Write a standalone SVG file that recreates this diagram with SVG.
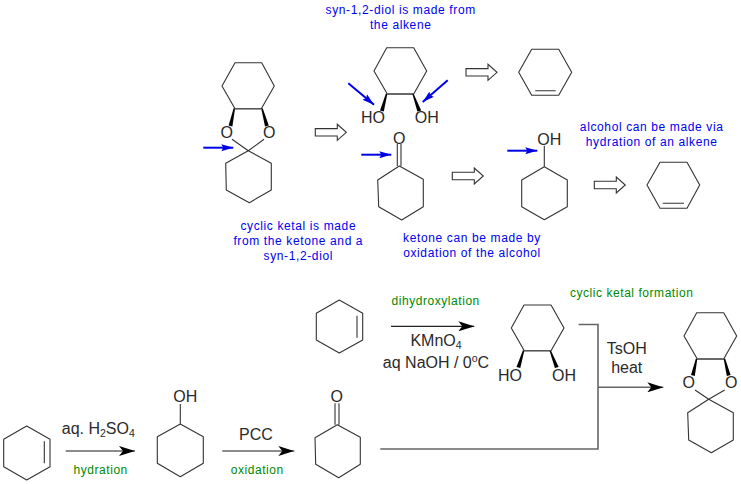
<svg xmlns="http://www.w3.org/2000/svg" width="741" height="484" viewBox="0 0 741 484">
<style>
text{font-family:"Liberation Sans",Arial,sans-serif;text-anchor:middle}
.b{fill:none;stroke:#333;stroke-width:1.1;stroke-linejoin:round}
.m{fill:none;stroke:#555;stroke-width:1.4}
.w{fill:#000;stroke:none}
.a{font-size:16px;fill:#2a2a2a}
.n{font-size:12px;fill:#0000f0;letter-spacing:.62px}
.g{font-size:12px;fill:#008a00;letter-spacing:.55px}
.r{font-size:16px;fill:#2a2a2a}
.s{font-size:10.5px}
.h{fill:#fff;stroke:#333;stroke-width:1.1}
.bl{fill:none;stroke:#0000e6;stroke-width:2}
.l{fill:none;stroke:#666;stroke-width:1.6}
.k{fill:none;stroke:#222;stroke-width:1.2}
</style>
<defs>
<marker id="bh" markerUnits="userSpaceOnUse" markerWidth="12" markerHeight="8" refX="12" refY="4" orient="auto"><path d="M0 .5 L12 4 L0 7.5 L2 4Z" fill="#0000e6"/></marker>
<marker id="kh" markerUnits="userSpaceOnUse" markerWidth="16" markerHeight="10" refX="16" refY="5" orient="auto"><path d="M0 0 L16 5 L0 10 L4 5Z" fill="#000"/></marker>
<path id="retro" d="M0 -3.7 H22 V-8 L31 0 L22 8 V3.7 H0Z"/>
</defs>

<g id="ketal-top">
<path class="b" d="M235 62.7H261.7L274.3 86L261.3 108.7H235L222 86Z"/>
<path class="m" d="M235 108.7H261.3"/>
<path class="w" d="M235 108.7L233.6 108.2L228.6 125.5L232.4 126.5Z"/>
<path class="w" d="M261.3 108.7L262.7 108.2L268.8 125.5L265 126.5Z"/>
<path class="b" d="M232 139.3L248.3 150.7L264 139.3M248.3 150.7L271.3 163.3V190L249.3 202.7L226.3 190L225.7 163.3Z"/>
<text class="a" x="226.7" y="138">O</text>
<text class="a" x="269.3" y="138">O</text>
</g>
<g id="diol-top">
<path class="b" d="M386.7 47.7H413.7L426.7 71L413.7 94H387.3L374 71Z"/>
<path class="m" d="M387.3 94H413.7"/>
<path class="w" d="M387.3 94L385.9 93.5L380 110.5L383.8 111.5Z"/>
<path class="w" d="M413.7 94L412.3 93.8L417.4 111.5L421.2 110.5Z"/>
<text class="a" x="373" y="123">HO</text>
<text class="a" x="426.7" y="123">OH</text>
</g>
<g id="alkene-top">
<path class="b" d="M531.7 49.3H558.7L571.7 72.3L558.7 95.3H531.7L518.7 72.3ZM535.3 90.7H555.7"/>
</g>
<g id="ketone-top">
<path class="b" d="M397.3 144V166M401 144V166M399.3 166L423.3 179.3V206.7L401.7 220L378.7 206.7L377.7 180Z"/>
<text class="a" x="399.3" y="144">O</text>
</g>
<g id="alcohol-top">
<path class="b" d="M544.3 145.7V166.7L567.3 180V206.7L544.3 219.7L521.7 206.7V180L544.3 166.7"/>
<text class="a" x="549.3" y="145">OH</text>
</g>
<g id="alkene-right">
<path class="b" d="M660 162.3H687L699.7 185L687 208.3H660L647 185ZM662.7 203.3H684"/>
</g>
<g id="retro-arrows">
<use href="#retro" class="h" x="315.3" y="132.3"/>
<use href="#retro" class="h" x="452.3" y="176"/>
<use href="#retro" class="h" x="466" y="72.3"/>
<use href="#retro" class="h" x="594.3" y="185"/>
</g>
<g id="blue-arrows">
<path class="bl" marker-end="url(#bh)" d="M203.3 147.7H233.3"/>
<path class="bl" marker-end="url(#bh)" d="M348.3 83.3L374 104.7"/>
<path class="bl" marker-end="url(#bh)" d="M447.7 80.3L422.7 102"/>
<path class="bl" marker-end="url(#bh)" d="M361.3 154.7H391.3"/>
<path class="bl" marker-end="url(#bh)" d="M507.3 150.7H537.3"/>
</g>
<g id="notes">
<text class="n" x="400.7" y="13.5">syn-1,2-diol is made from</text>
<text class="n" x="400.7" y="29">the alkene</text>
<text class="n" x="298.3" y="230">cyclic ketal is made</text>
<text class="n" x="298.3" y="244.7">from the ketone and a</text>
<text class="n" x="298.3" y="259.7">syn-1,2-diol</text>
<text class="n" x="472" y="241.5">ketone can be made by</text>
<text class="n" x="472" y="256.5">oxidation of the alcohol</text>
<text class="n" x="651.7" y="130.5">alcohol can be made via</text>
<text class="n" x="651.7" y="145.5">hydration of an alkene</text>
</g>

<g id="alkene-a">
<path class="b" d="M339.3 300L362.7 313.3V340L339.3 353L316.3 340V313.3ZM357 315.7V337.7"/>
</g>
<g id="alkene-b">
<path class="b" d="M26.7 426L50 439.3V466.7L26.7 480L3.7 466.7V439.3ZM44.3 441.3V463.3"/>
</g>
<g id="alcohol-b">
<path class="b" d="M180.3 404V424L203.3 436.7V463.3L180.3 476.7L157.3 463.3V436.7L180.3 424"/>
<text class="a" x="185.3" y="402">OH</text>
</g>
<g id="ketone-b">
<path class="b" d="M335 403.3V424.7M339 403.3V424.7M337.3 424.7L360.3 437.3V464.3L338.7 477.7L315.7 464.3L315 437.7Z"/>
<text class="a" x="336.7" y="402">O</text>
</g>
<g id="diol-b">
<path class="b" d="M524 305H551L564 328L551 350.7H524.3L511.3 328Z"/>
<path class="m" d="M524.3 350.7H551"/>
<path class="w" d="M524.3 350.7L522.9 350.2L516.5 367L520.3 368Z"/>
<path class="w" d="M551 350.7L549.6 350.9L554.9 368L558.7 367Z"/>
<text class="a" x="510" y="381">HO</text>
<text class="a" x="564" y="381">OH</text>
</g>
<g id="ketal-b">
<path class="b" d="M696.7 312.7H723.7L736.7 336L723.7 359H697.3L684 336Z"/>
<path class="m" d="M697.3 359H723.7"/>
<path class="w" d="M697.3 359L695.9 358.5L691 375L694.8 376Z"/>
<path class="w" d="M723.7 359L725.1 358.5L730.6 375L726.8 376Z"/>
<path class="b" d="M695 390L708.7 399.3L724.7 390M708.7 399.3L733.3 412.7V440L711.3 452.7L688.7 440L687.7 412.7Z"/>
<text class="a" x="688.7" y="388">O</text>
<text class="a" x="731.3" y="388">O</text>
</g>
<g id="connectors">
<path class="l" marker-end="url(#kh)" d="M65.7 451H135"/>
<path class="l" marker-end="url(#kh)" d="M222.3 451H294.3"/>
<path class="k" marker-end="url(#kh)" d="M391 326.3H474.3"/>
<path class="l" d="M578.7 324.5H598V449H380.3"/>
<path class="l" marker-end="url(#kh)" d="M598 387.3H663.3"/>
</g>
<g id="reagents">
<text class="r" x="98.3" y="433.5">aq. H<tspan class="s" dy="3">2</tspan><tspan dy="-3">SO</tspan><tspan class="s" dy="3">4</tspan></text>
<text class="r" x="256" y="439.5">PCC</text>
<text class="r" x="436" y="345.7">KMnO<tspan class="s" dy="3">4</tspan></text>
<text class="r" x="436" y="368.3">aq NaOH / 0<tspan class="s" dy="-6">o</tspan><tspan dy="6">C</tspan></text>
<text class="r" x="626.7" y="354">TsOH</text>
<text class="r" x="626.7" y="372.7">heat</text>
<text class="g" x="100.7" y="474">hydration</text>
<text class="g" x="257.3" y="473.7">oxidation</text>
<text class="g" x="435.7" y="305.3">dihydroxylation</text>
<text class="g" x="631.7" y="297.3">cyclic ketal formation</text>
</g>
</svg>
